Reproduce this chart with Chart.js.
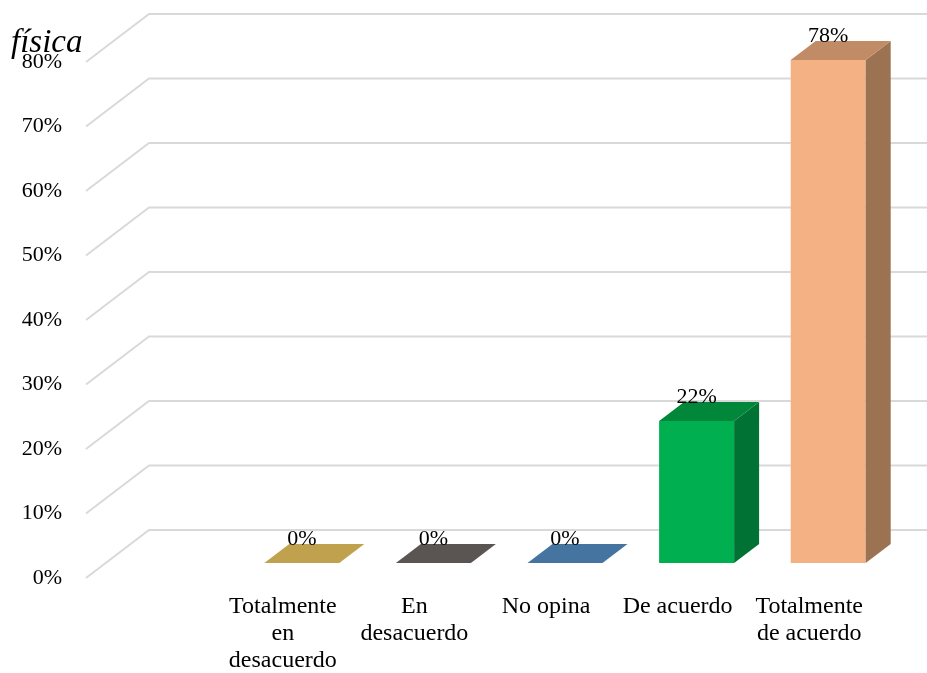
<!DOCTYPE html>
<html>
<head>
<meta charset="utf-8">
<style>
  html, body { margin: 0; padding: 0; background: #ffffff; }
  #wrap { width: 927px; height: 673px; }
</style>
<script src="https://cdn.jsdelivr.net/npm/chart.js@4/dist/chart.umd.min.js"></script>
</head>
<body>
<div id="wrap"><canvas id="c" width="927" height="673"></canvas></div>
<script>
// Response categories (multi-line axis labels)
const categories = [
  ['Totalmente', 'en', 'desacuerdo'],
  ['En', 'desacuerdo'],
  ['No opina'],
  ['De acuerdo'],
  ['Totalmente', 'de acuerdo']
];
// Share of respondents, in percent
const percentages = [0, 0, 0, 22, 78];
// Value axis ticks
const tickValues = [0, 10, 20, 30, 40, 50, 60, 70, 80];
const titleText = 'física';

// Face colours for each bar: front, top, right side
const frontColors = ['#D1AE52', '#625C59', '#4A7DAD', '#00B050', '#F4B183'];
const topColors   = ['#C0A24E', '#5A5553', '#44749F', '#00873A', '#C18B66'];
const sideColors  = ['#A88C40', '#4A4543', '#3A6388', '#007233', '#9C7352'];

const SERIF = '"Liberation Serif", "Times New Roman", serif';
const DEPTH_X = 25, DEPTH_Y = 19;    // extrusion of each bar
const WALL_X = 149, FLOOR_X = 86;    // back wall and front edge of the floor
const WALL_DY = -33, FLOOR_DY = 15;  // vertical offsets from the bar plane

// Gridlines drawn as a floor edge running back to the wall, then along the wall
const wallPlugin = {
  id: 'wall3d',
  beforeDatasetsDraw(chart) {
    const ctx = chart.ctx, ys = chart.scales.y;
    ctx.save();
    ctx.strokeStyle = '#D9D9D9';
    ctx.lineWidth = 2;
    tickValues.forEach(v => {
      const py = ys.getPixelForValue(v);
      ctx.beginPath();
      ctx.moveTo(FLOOR_X, py + FLOOR_DY);
      ctx.lineTo(WALL_X, py + WALL_DY);
      ctx.lineTo(chart.width, py + WALL_DY);
      ctx.stroke();
    });
    ctx.restore();
  },
  afterDatasetsDraw(chart) {
    const ctx = chart.ctx;
    const meta = chart.getDatasetMeta(0);
    ctx.save();
    meta.data.forEach((bar, i) => {
      const p = bar.getProps(['x', 'y', 'base', 'width'], true);
      const l = p.x - p.width / 2, r = p.x + p.width / 2;
      const top = p.y, base = p.base;
      // right side
      if (base - top > 0.5) {
        ctx.fillStyle = sideColors[i];
        ctx.beginPath();
        ctx.moveTo(r, top);
        ctx.lineTo(r + DEPTH_X, top - DEPTH_Y);
        ctx.lineTo(r + DEPTH_X, base - DEPTH_Y);
        ctx.lineTo(r, base);
        ctx.closePath();
        ctx.fill();
      }
      // top face
      ctx.fillStyle = topColors[i];
      ctx.beginPath();
      ctx.moveTo(l, top);
      ctx.lineTo(l + DEPTH_X, top - DEPTH_Y);
      ctx.lineTo(r + DEPTH_X, top - DEPTH_Y);
      ctx.lineTo(r, top);
      ctx.closePath();
      ctx.fill();
    });
    // value labels
    ctx.fillStyle = '#000000';
    ctx.font = '22px ' + SERIF;
    ctx.textAlign = 'center';
    ctx.textBaseline = 'middle';
    meta.data.forEach((bar, i) => {
      const p = bar.getProps(['x', 'y'], true);
      ctx.fillText(percentages[i] + '%', p.x, p.y - 24);
    });
    // title fragment
    ctx.font = 'italic 33px ' + SERIF;
    ctx.textAlign = 'left';
    ctx.textBaseline = 'alphabetic';
    ctx.fillText(titleText, 11, 52);
    ctx.restore();
  }
};

new Chart(document.getElementById('c'), {
  type: 'bar',
  data: {
    labels: categories,
    datasets: [{
      data: percentages,
      backgroundColor: frontColors,
      borderWidth: 0,
      barPercentage: 0.57,
      categoryPercentage: 1
    }]
  },
  options: {
    responsive: false,
    animation: false,
    layout: { padding: { top: 47, right: 33, left: 0, bottom: 0 } },
    plugins: {
      legend: { display: false },
      tooltip: { enabled: false },
      title: { display: false }
    },
    scales: {
      x: {
        grid: { display: false, drawTicks: false },
        border: { display: false },
        ticks: {
          color: '#000000',
          font: { family: SERIF, size: 24, lineHeight: 1.125 },
          padding: 30,
          labelOffset: -19,
          maxRotation: 0,
          autoSkip: false
        },
        afterFit(s) { s.height = 110; s.paddingLeft = 0; s.paddingRight = 0; }
      },
      y: {
        min: 0,
        max: 80,
        grid: { display: false, drawTicks: false },
        border: { display: false },
        afterBuildTicks(s) { s.ticks = tickValues.map(v => ({ value: v })); },
        ticks: {
          color: '#000000',
          font: { family: SERIF, size: 22 },
          padding: 174,
          labelOffset: 15,
          callback: v => v + '%'
        },
        afterFit(s) { s.width = 236; s.paddingTop = 0; s.paddingBottom = 0; }
      }
    }
  },
  plugins: [wallPlugin]
});
</script>
</body>
</html>
